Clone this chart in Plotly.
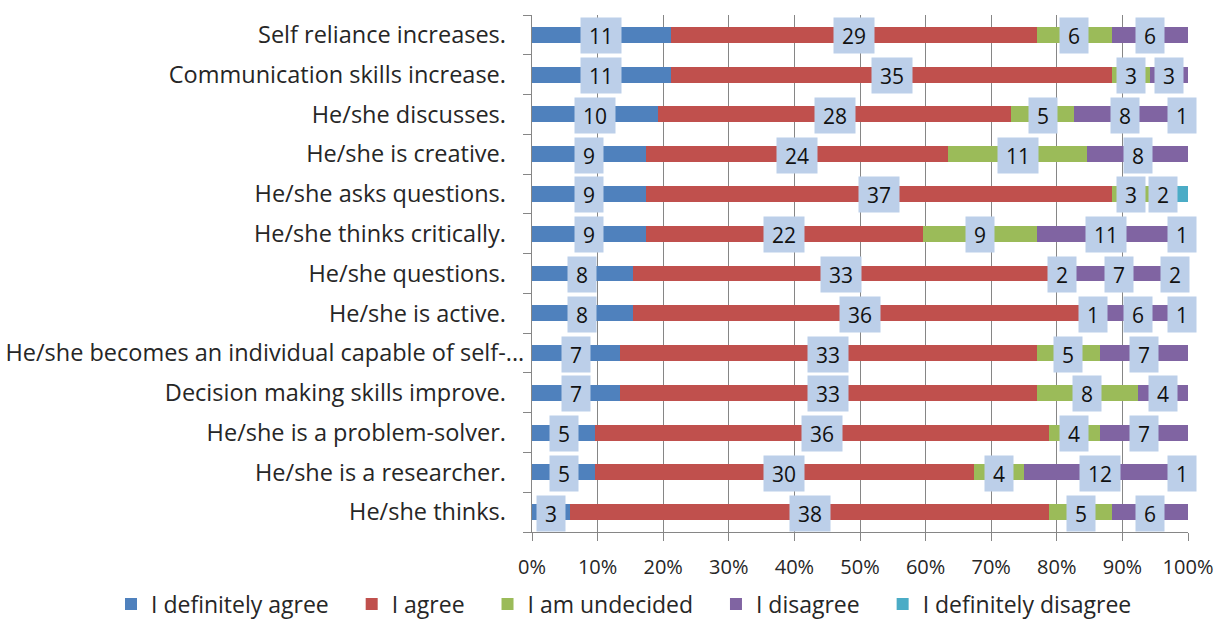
import plotly.graph_objects as go

categories = [
    "Self reliance increases.",
    "Communication skills increase.",
    "He/she discusses.",
    "He/she is creative.",
    "He/she asks questions.",
    "He/she thinks critically.",
    "He/she questions.",
    "He/she is active.",
    "He/she becomes an individual capable of self-...",
    "Decision making skills improve.",
    "He/she is a problem-solver.",
    "He/she is a researcher.",
    "He/she thinks.",
]

definitely_agree = [11, 11, 10, 9, 9, 9, 8, 8, 7, 7, 5, 5, 3]
agree = [29, 35, 28, 24, 37, 22, 33, 36, 33, 33, 36, 30, 38]
undecided = [6, 3, 5, 11, 3, 9, 2, 1, 5, 8, 4, 4, 5]
disagree = [6, 3, 8, 8, 2, 11, 7, 6, 7, 4, 7, 12, 6]
definitely_disagree = [0, 0, 1, 0, 1, 1, 2, 1, 0, 0, 0, 1, 0]

series_names = ["I definitely agree", "I agree", "I am undecided", "I disagree", "I definitely disagree"]
series_values = [definitely_agree, agree, undecided, disagree, definitely_disagree]
series_colors = ["#4F81BD", "#C0504D", "#9BBB59", "#8064A2", "#4BACC6"]

# data label not shown in the reference (overlapped)
hidden_labels = {("He/she asks questions.", "I definitely disagree")}

FONT = "Open Sans"
TXT = "#262626"
NB = "\u00a0"

# display text for the y axis (Excel pads the labels)
ticktext = [c if c.endswith("...") else c + NB * 3 for c in categories]

fig = go.Figure()
for name, vals, col in zip(series_names, series_values, series_colors):
    fig.add_trace(go.Bar(
        y=categories, x=vals, name=name + NB * 3, orientation="h",
        marker=dict(color=col, line=dict(width=0)),
    ))

annotations = []
for i, cat in enumerate(categories):
    total = sum(s[i] for s in series_values)
    cum = 0
    for name, vals in zip(series_names, series_values):
        v = vals[i]
        if v > 0 and (cat, name) not in hidden_labels:
            mid = (cum + v / 2) / total * 100
            t = str(v)
            annotations.append(dict(
                x=mid, y=cat, xref="x", yref="y", text=t, showarrow=False,
                font=dict(family=FONT, size=21, color="#111111"),
                bgcolor="#bccfe9", borderpad=3,
                width=22 if len(t) == 1 else 34, height=29,
                yshift=-1,
            ))
        cum += v

fig.update_layout(
    barmode="stack", barnorm="percent", bargap=0.6,
    width=1222, height=634,
    margin=dict(l=532, r=34, t=15, b=102, autoexpand=False),
    paper_bgcolor="white", plot_bgcolor="white",
    font=dict(family=FONT, size=23, color=TXT),
    showlegend=True,
    legend=dict(orientation="h", xref="paper", yref="paper",
                x=(111 - 532) / 656, xanchor="left", y=(532 - 604) / 517, yanchor="middle",
                font=dict(family=FONT, size=23, color=TXT),
                itemwidth=30, traceorder="normal"),
    annotations=annotations,
)
fig.update_xaxes(
    range=[0, 100], dtick=10, ticksuffix="%", showgrid=True, gridcolor="#868686",
    gridwidth=1, showline=True, linecolor="#868686", ticks="outside", ticklen=8,
    tickcolor="#868686", zeroline=False, ticklabelstandoff=9, automargin=False,
    tickfont=dict(family=FONT, size=20, color=TXT), fixedrange=True,
)
fig.update_yaxes(
    autorange="reversed", tickmode="array", tickvals=categories, ticktext=ticktext,
    showline=True, linecolor="#868686", ticks="outside", ticklen=8,
    tickcolor="#868686", tickson="boundaries", showgrid=False, automargin=False,
    ticklabelstandoff=2, tickfont=dict(family=FONT, size=23.5, color=TXT),
)

fig.write_html("out.html")
